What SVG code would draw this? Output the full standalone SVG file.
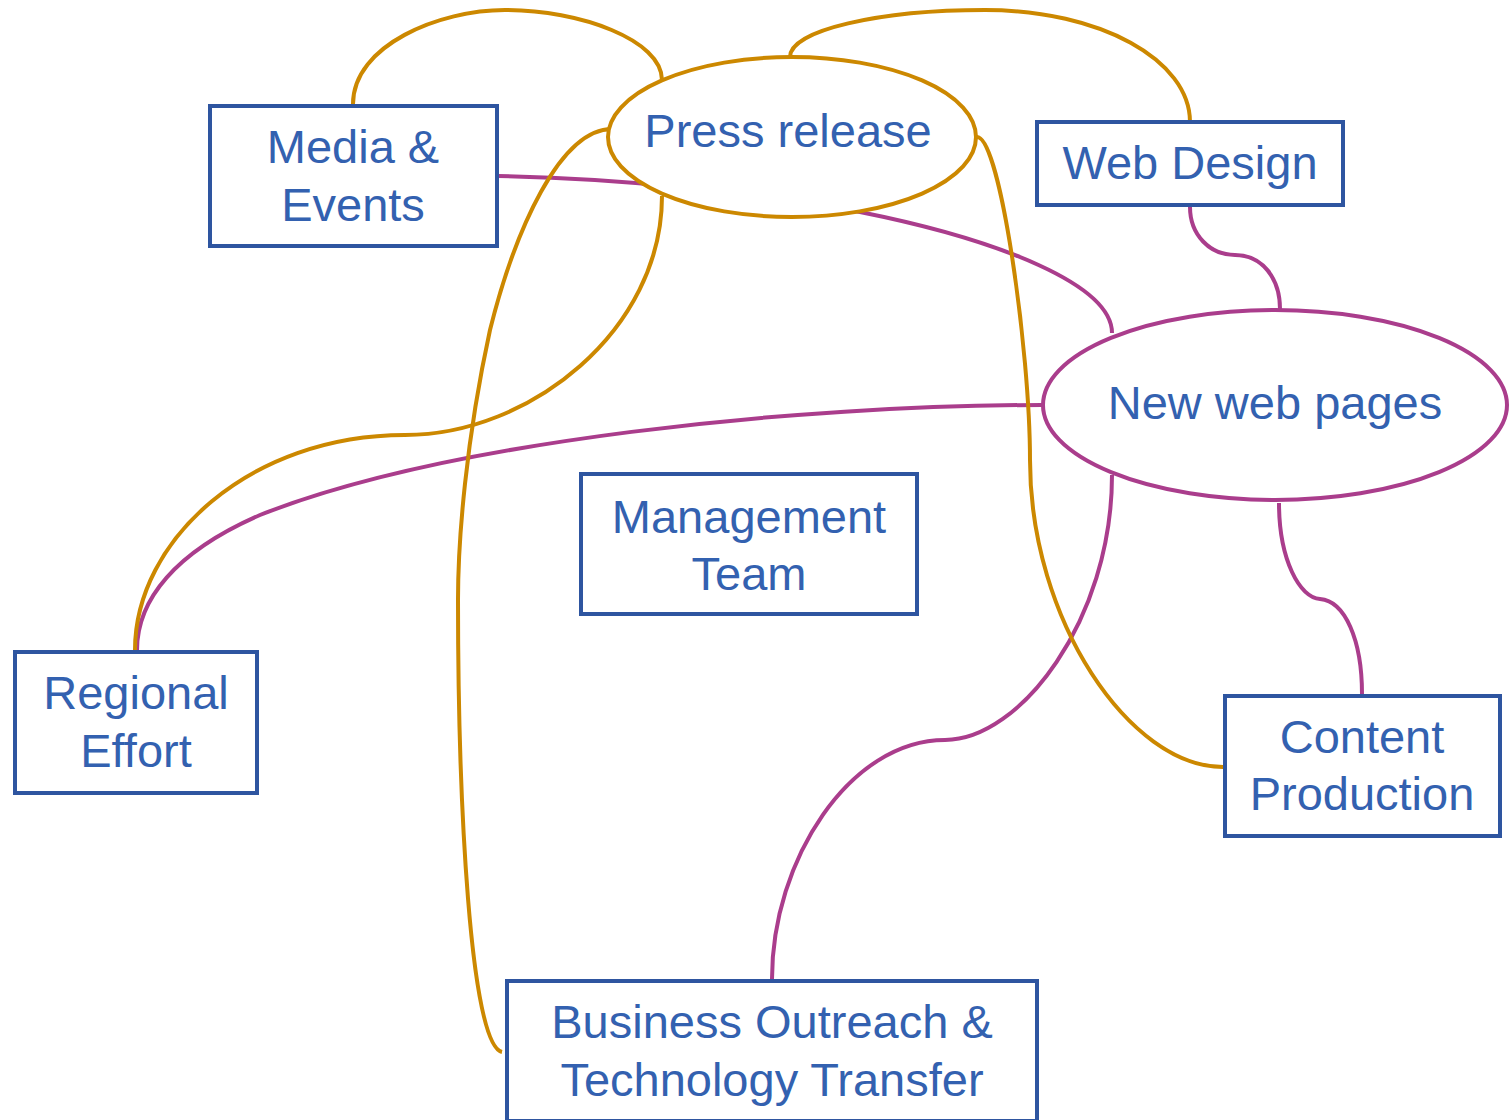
<svg xmlns="http://www.w3.org/2000/svg" width="1509" height="1120" viewBox="0 0 1509 1120">
<style>
.box{fill:#fff;stroke:#2E55A0;stroke-width:4}
.ell-g{fill:#fff;stroke:#CC8800;stroke-width:4}
.ell-p{fill:#fff;stroke:#AA3D8C;stroke-width:4}
.t{font-family:"Liberation Sans",Arial,sans-serif;font-size:47px;fill:#3361B0;text-anchor:middle}
.g{fill:none;stroke:#CC8800;stroke-width:4}
.p{fill:none;stroke:#AA3D8C;stroke-width:4}
</style>
<rect width="1509" height="1120" fill="#fff"/>
<g id="connectors">
<path class="p" d="M498,176 C620,178 760,193 860,212 C1000,240 1112,285 1112,333"/>
<path class="p" d="M1190,207 C1190,235 1210,255 1235,255 C1262,255 1280,278 1280,309"/>
<path class="p" d="M1042,405 C800,405 450,440 260,515 C175,552 137,600 137,650"/>
<path class="p" d="M1112,475 C1112,620 1020,740 945,740 C850,740 772,860 772,979"/>
<path class="p" d="M1279,503 C1279,560 1300,598 1320,599 C1345,601 1362,640 1362,694"/>
<path class="g" d="M353,104 C353,45 440,10 505,10 C580,10 662,40 662,80"/>
<path class="g" d="M790,57 C790,30 880,10 985,10 C1100,10 1190,60 1190,122"/>
<path class="g" d="M612,129 C560,129 515,230 490,330 C466,440 458,540 458,600 C458,800 470,1045 502,1052"/>
<path class="g" d="M662,196 C662,330 530,435 405,435 C250,435 135,540 135,650"/>
<path class="g" d="M977,137 C1000,137 1030,350 1030,460 C1030,620 1130,767 1223,767"/>
</g>
<g id="press-release">
<ellipse class="ell-g" cx="792" cy="137" rx="184" ry="80"/>
<text class="t" x="788" y="147">Press release</text>
</g>
<g id="new-web-pages">
<ellipse class="ell-p" cx="1275" cy="405" rx="232" ry="95"/>
<text class="t" x="1275" y="419">New web pages</text>
</g>
<g id="media-events">
<rect class="box" x="210" y="106" width="287" height="140"/>
<text class="t" x="353" y="163">Media &amp;</text>
<text class="t" x="353" y="221">Events</text>
</g>
<g id="web-design">
<rect class="box" x="1037" y="122" width="306" height="83"/>
<text class="t" x="1190" y="179">Web Design</text>
</g>
<g id="management-team">
<rect class="box" x="581" y="474" width="336" height="140"/>
<text class="t" x="749" y="533">Management</text>
<text class="t" x="749" y="590">Team</text>
</g>
<g id="regional-effort">
<rect class="box" x="15" y="652" width="242" height="141"/>
<text class="t" x="136" y="709">Regional</text>
<text class="t" x="136" y="767">Effort</text>
</g>
<g id="content-production">
<rect class="box" x="1225" y="696" width="275" height="140"/>
<text class="t" x="1362" y="753">Content</text>
<text class="t" x="1362" y="810">Production</text>
</g>
<g id="business-outreach">
<rect class="box" x="507" y="981" width="530" height="140"/>
<text class="t" x="772" y="1038">Business Outreach &amp;</text>
<text class="t" x="772" y="1096">Technology Transfer</text>
</g>
</svg>
